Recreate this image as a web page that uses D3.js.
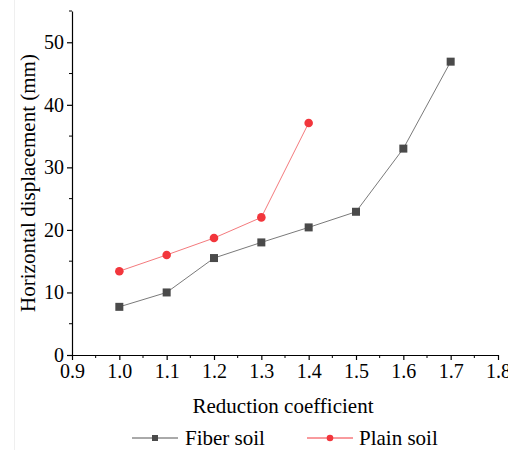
<!DOCTYPE html>
<html><head><meta charset="utf-8">
<script src="https://cdn.jsdelivr.net/npm/d3@7"></script>
<style>body{margin:0;background:#fff}svg{display:block}text{font-family:"Liberation Serif","Times New Roman",serif}</style>
</head><body>
<svg id="c" width="508" height="450"></svg>
<script>
const fiberX = [1.0, 1.1, 1.2, 1.3, 1.4, 1.5, 1.6, 1.7];
const fiberY = [7.7, 10.0, 15.5, 18.0, 20.4, 22.9, 33.0, 46.9];
const plainX = [1.0, 1.1, 1.2, 1.3, 1.4];
const plainY = [13.4, 16.0, 18.7, 22.0, 37.1];
const xTicks = [0.9, 1.0, 1.1, 1.2, 1.3, 1.4, 1.5, 1.6, 1.7, 1.8];
const yTicks = [0, 10, 20, 30, 40, 50];
const seriesNames = ["Fiber soil", "Plain soil"];

const svg = d3.select("#c");
const font = "'Liberation Serif','Times New Roman',serif";
const x = d3.scaleLinear().domain([0.9, 1.8]).range([72, 498]);
const y = d3.scaleLinear().domain([0, 55]).range([355, 11]);

// faint left border
svg.append("line").attr("x1",14.5).attr("x2",14.5).attr("y1",0).attr("y2",450)
  .attr("stroke","#efefef").attr("stroke-width",1);

// minor ticks
const xMinor = d3.range(0, 9).map(i => 0.95 + i*0.1);
const yMinor = d3.range(0, 6).map(i => 5 + i*10);
const g = svg.append("g");
g.selectAll(".xm").data(xMinor).join("line")
  .attr("x1", d => x(d)).attr("x2", d => x(d)).attr("y1", 355).attr("y2", 358)
  .attr("stroke","#000").attr("stroke-width",1);
g.selectAll(".ym").data(yMinor).join("line")
  .attr("y1", d => y(d)).attr("y2", d => y(d)).attr("x1", 72).attr("x2", 69)
  .attr("stroke","#000").attr("stroke-width",1);

const xAxis = svg.append("g").attr("transform","translate(0,355)")
  .call(d3.axisBottom(x).tickValues(xTicks).tickFormat(d3.format(".1f")).tickSize(5).tickSizeOuter(0).tickPadding(4));
const yAxis = svg.append("g").attr("transform","translate(72,0)")
  .call(d3.axisLeft(y).tickValues(yTicks).tickSize(5).tickSizeOuter(0).tickPadding(3));
[xAxis, yAxis].forEach(a => {
  a.attr("font-family", null).attr("font-size", null);
  a.select(".domain").attr("stroke","#000").attr("stroke-width",1.2);
  a.selectAll(".tick line").attr("stroke","#000").attr("stroke-width",1.2);
  a.selectAll("text").style("font-family", font).style("font-size", "20px").attr("fill","#000");
});

svg.append("text").attr("x", 283).attr("y", 413).attr("text-anchor","middle")
  .style("font-family", font).style("font-size", "21px").text("Reduction coefficient");
svg.append("text").attr("transform","translate(35,183) rotate(-90)").attr("text-anchor","middle")
  .style("font-family", font).style("font-size", "21px").text("Horizontal displacement (mm)");

const fiber = fiberX.map((d,i) => [d, fiberY[i]]);
const plain = plainX.map((d,i) => [d, plainY[i]]);
const line = d3.line().x(d => x(d[0])).y(d => y(d[1]));

svg.append("path").datum(fiber).attr("d", line).attr("fill","none").attr("stroke","#7a7a7a").attr("stroke-width",1);
svg.append("path").datum(plain).attr("d", line).attr("fill","none").attr("stroke","#f47a7d").attr("stroke-width",1);

svg.selectAll(".sq").data(fiber).join("rect")
  .attr("x", d => x(d[0]) - 4).attr("y", d => y(d[1]) - 4).attr("width", 8).attr("height", 8)
  .attr("fill","#4a4a4a");
svg.selectAll(".ci").data(plain).join("circle")
  .attr("cx", d => x(d[0])).attr("cy", d => y(d[1])).attr("r", 4.3)
  .attr("fill","#f2363c");

// legend
const lg = svg.append("g");
lg.append("line").attr("x1",132).attr("x2",178).attr("y1",438).attr("y2",438).attr("stroke","#555").attr("stroke-width",1);
lg.append("rect").attr("x",152).attr("y",435).attr("width",6).attr("height",6).attr("fill","#4a4a4a");
lg.append("text").attr("x",185).attr("y",445).style("font-family",font).style("font-size","21px").text(seriesNames[0]);
lg.append("line").attr("x1",307).attr("x2",353).attr("y1",438).attr("y2",438).attr("stroke","#f2363c").attr("stroke-width",1);
lg.append("circle").attr("cx",330).attr("cy",438).attr("r",3.3).attr("fill","#f2363c");
lg.append("text").attr("x",359).attr("y",445).style("font-family",font).style("font-size","21px").text(seriesNames[1]);
</script>
</body></html>
